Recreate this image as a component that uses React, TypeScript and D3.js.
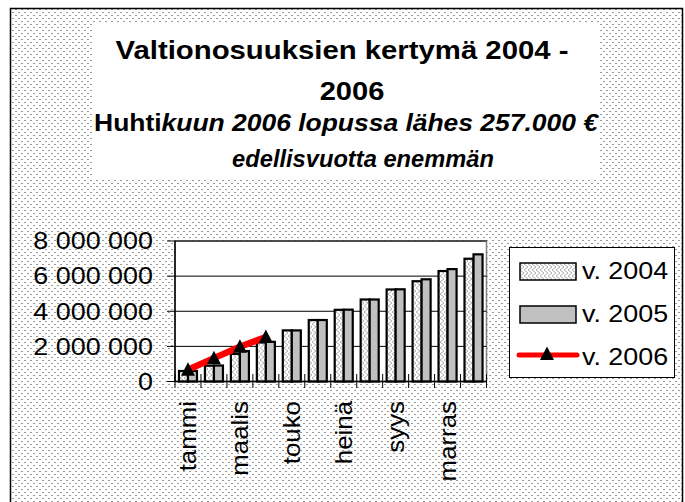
import * as d3 from "d3";
import React from "react";

const months = ["tammi", "helmi", "maalis", "huhti", "touko", "kesä", "heinä", "elo", "syys", "loka", "marras", "joulu"];
const series = ["v. 2004", "v. 2005"];
const v2004 = [600000, 900000, 1570000, 2220000, 2910000, 3500000, 4080000, 4670000, 5240000, 5710000, 6290000, 6990000];
const v2005 = [600000, 910000, 1730000, 2260000, 2910000, 3500000, 4090000, 4670000, 5250000, 5820000, 6400000, 7240000];
const v2006 = [670000, 1330000, 1980000, 2530000];
const yTicks = [0, 2000000, 4000000, 6000000, 8000000];

const font = "'Liberation Sans', Arial, sans-serif";

// text that is a bit wider than the font, like the old Excel rendering
const T = ({x, y, sx = 1.15, rotate = 0, children, ...rest}) => (
    <text transform={`translate(${x},${y}) rotate(${rotate}) scale(${sx},1)`} fontFamily={font} {...rest}>{children}</text>
)

const App = () => {
    const width = 685
    const height = 502

    const x = d3.scaleBand().domain(months).range([175, 486.5]).padding(0)
    const xs = d3.scaleBand().domain(series).range([0, x.bandwidth()]).paddingInner(0).paddingOuter(0.44)
    const y = d3.scaleLinear().domain([0, 8000000]).range([381.5, 241])

    const fmt = v => d3.format(",")(v).replace(/,/g, " ")

    const line = d3.line()
        .x((d, i) => x(months[i]) + x.bandwidth() / 2)
        .y(d => y(d))

    const tri = "M0,-7.5L7,6L-7,6Z"

    const bars = [v2004, v2005]

    return (
        <svg width={width} height={height} style={{position: "absolute", left: 0, top: 0, display: "block"}}>
            <defs>
                <pattern id="dots" width="6" height="6" patternUnits="userSpaceOnUse">
                    <rect width="6" height="6" fill="#fff"/>
                    <rect x="0" y="0" width="2" height="1" fill="#9a9a9a"/>
                    <rect x="3" y="3" width="2" height="1" fill="#9a9a9a"/>
                </pattern>
                <pattern id="weave" width="4" height="6" patternUnits="userSpaceOnUse">
                    <rect width="4" height="6" fill="#fff"/>
                    <path d="M0,0L4,3L0,6" fill="none" stroke="#b0b0b0" strokeWidth="1"/>
                </pattern>
            </defs>

            {/* chart area */}
            <rect x={10.5} y={8.5} width={672} height={500} fill="url(#dots)" stroke="#000" strokeWidth={1.5}/>

            {/* title box */}
            <rect x={92} y={22} width={508} height={157} fill="#fff"/>
            <g fontWeight="bold" textAnchor="middle" fill="#000">
                <T x={342} y={59} fontSize={25.5}>Valtionosuuksien kertymä 2004 -</T>
                <T x={352} y={100} fontSize={26} sx={1.12}>2006</T>
                <T x={346} y={131} fontSize={23} sx={1.15}>Huhti<tspan fontStyle="italic">kuun 2006 lopussa lähes 257.000 €</tspan></T>
                <T x={363} y={167} fontSize={23} sx={1.03} fontStyle="italic">edellisvuotta enemmän</T>
            </g>

            {/* plot area */}
            <rect x={175} y={241} width={311.5} height={140.5} fill="#fff" stroke="#808080" strokeWidth={1.5}/>
            {yTicks.slice(1).map(t => (
                <line key={t} x1={175} x2={486.5} y1={y(t)} y2={y(t)} stroke="#000" strokeWidth={1}/>
            ))}

            {/* bars */}
            {bars.map((vals, s) => (
                <g key={s}>
                    {vals.map((v, i) => (
                        <rect key={i}
                              x={x(months[i]) + xs(series[s])}
                              y={y(v)}
                              width={xs.bandwidth()}
                              height={y(0) - y(v)}
                              fill={s === 0 ? "url(#weave)" : "#c0c0c0"}
                              stroke="#000" strokeWidth={2.2}/>
                    ))}
                </g>
            ))}

            {/* axes */}
            <line x1={175} x2={175} y1={241} y2={381.5} stroke="#000" strokeWidth={1.5}/>
            <line x1={175} x2={486.5} y1={381.5} y2={381.5} stroke="#000" strokeWidth={1.5}/>
            {yTicks.map(t => (
                <g key={t}>
                    <line x1={167} x2={175} y1={y(t)} y2={y(t)} stroke="#000" strokeWidth={1}/>
                    <T x={153} y={y(t)} sx={1.17} dy="0.36em" textAnchor="end" fontSize={23}>{fmt(t)}</T>
                </g>
            ))}
            {months.map(m => (
                <line key={m} x1={x(m)} x2={x(m)} y1={374} y2={388} stroke="#000" strokeWidth={1}/>
            ))}
            <line x1={486.5} x2={486.5} y1={374} y2={388} stroke="#000" strokeWidth={1}/>
            {months.map((m, i) => i % 2 === 0 && (
                <T key={m} x={x(m) + x.bandwidth() / 2} y={401} rotate={-90} sx={1.1}
                   dy="0.36em" textAnchor="end" fontSize={23.5}>{m}</T>
            ))}

            {/* 2006 line */}
            <path d={line(v2006)} fill="none" stroke="#ff0000" strokeWidth={6.5}/>
            {v2006.map((v, i) => (
                <path key={i} d={tri} transform={`translate(${x(months[i]) + x.bandwidth() / 2},${y(v)})`} fill="#000"/>
            ))}

            {/* legend */}
            <rect x={509.5} y={247.5} width={165} height={130} fill="#fff" stroke="#000" strokeWidth={1}/>
            <g fontSize={24}>
                <rect x={520} y={263} width={56} height={17} fill="url(#weave)" stroke="#000" strokeWidth={1.5}/>
                <T x={582} y={279} sx={1.12}>v. 2004</T>
                <rect x={520} y={306} width={56} height={17} fill="#c0c0c0" stroke="#000" strokeWidth={1.5}/>
                <T x={582} y={322} sx={1.12}>v. 2005</T>
                <line x1={519} x2={577} y1={355} y2={355} stroke="#ff0000" strokeWidth={5} strokeLinecap="round"/>
                <path d={tri} transform="translate(547,354)" fill="#000"/>
                <T x={582} y={365} sx={1.12}>v. 2006</T>
            </g>
        </svg>
    )
}

export default App;
